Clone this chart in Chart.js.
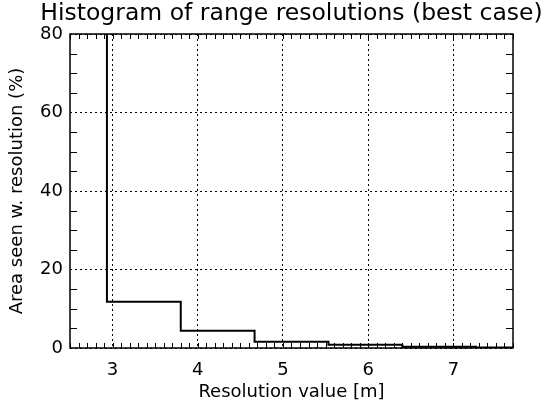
<!DOCTYPE html>
<html>
<head>
<meta charset="utf-8">
<script src="https://cdn.jsdelivr.net/npm/chart.js@4.4.0/dist/chart.umd.min.js"></script>
<style>
  html, body { margin: 0; padding: 0; background: #fff; }
  #wrap { width: 541px; height: 405px; }
</style>
</head>
<body>
<div id="wrap"><canvas id="histChart" width="541" height="405"></canvas></div>
<script>
// Histogram bins: centre of each resolution bin (m) and share of area (%)
const binCenters = [2.5, 3.367, 4.233, 5.1, 5.967, 6.833, 7.7];
const areaPct = [81, 11.8, 4.4, 1.6, 0.8, 0.3, 0.1];
const xTickValues = [3, 4, 5, 6, 7];
const yTickValues = [0, 20, 40, 60, 80];

const FONT = "'DejaVu Sans', sans-serif";

// Keep the title centred over the plot box rather than the whole canvas
const centreTitle = {
  id: 'centreTitle',
  afterLayout(chart) {
    const tb = chart.titleBlock;
    if (!tb) return;
    const a = chart.chartArea;
    const shift = (a.left + a.right) / 2 - (tb.left + tb.right) / 2;
    tb.left += shift;
    tb.right += shift;
  }
};

// Box frame plus inward minor ticks on all four sides
const frameTicks = {
  id: 'frameTicks',
  afterDatasetsDraw(chart) {
    const { ctx, chartArea: a, scales: { x, y } } = chart;
    ctx.save();
    ctx.strokeStyle = '#000';
    ctx.lineWidth = 1;
    ctx.beginPath();
    for (let t = 25; t <= 77; t++) {
      const px = Math.round(x.getPixelForValue(t / 10)) + 0.5;
      ctx.moveTo(px, a.bottom); ctx.lineTo(px, a.bottom - 5);
      ctx.moveTo(px, a.top); ctx.lineTo(px, a.top + 5);
    }
    for (let t = 5; t < 80; t += 5) {
      if (t % 20 === 0) continue;
      const py = Math.round(y.getPixelForValue(t)) + 0.5;
      ctx.moveTo(a.left, py); ctx.lineTo(a.left + 7, py);
      ctx.moveTo(a.right, py); ctx.lineTo(a.right - 7, py);
    }
    ctx.stroke();
    ctx.lineWidth = 1.5;
    ctx.strokeRect(a.left, a.top, a.right - a.left, a.bottom - a.top);
    ctx.restore();
  }
};

new Chart(document.getElementById('histChart'), {
  type: 'line',
  data: {
    datasets: [{
      data: binCenters.map((c, i) => ({ x: c, y: areaPct[i] })),
      stepped: 'middle',
      borderColor: '#000',
      borderWidth: 2,
      pointRadius: 0,
      fill: false
    }]
  },
  options: {
    responsive: false,
    animation: false,
    devicePixelRatio: 1,
    layout: { padding: { left: 0, right: 28, top: 0, bottom: 0 } },
    plugins: {
      legend: { display: false },
      tooltip: { enabled: false },
      title: {
        display: true,
        text: 'Histogram of range resolutions (best case)',
        color: '#000',
        align: 'center',
        font: { family: FONT, size: 23.5, weight: 'normal', lineHeight: 1.2 },
        padding: { top: 0, bottom: 5.8 }
      }
    },
    scales: {
      x: {
        type: 'linear',
        min: 2.5,
        max: 7.7,
        afterBuildTicks: s => { s.ticks = xTickValues.map(v => ({ value: v })); },
        afterFit: s => { s.height = 57; },
        ticks: { color: '#000', font: { family: FONT, size: 18 }, padding: 12, maxRotation: 0 },
        grid: { color: '#000', lineWidth: 1, drawTicks: false },
        border: { display: false, dash: [2, 3] },
        title: {
          display: true,
          text: 'Resolution value [m]',
          color: '#000',
          font: { family: FONT, size: 18 },
          padding: { top: 0, bottom: 2 }
        }
      },
      y: {
        min: 0,
        max: 80,
        afterBuildTicks: s => { s.ticks = yTickValues.map(v => ({ value: v })); },
        afterFit: s => { s.width = 70; },
        ticks: { color: '#000', font: { family: FONT, size: 18 }, padding: 7 },
        grid: { color: '#000', lineWidth: 1, drawTicks: false },
        border: { display: false, dash: [2, 3] },
        title: {
          display: true,
          text: 'Area seen w. resolution (%)',
          color: '#000',
          font: { family: FONT, size: 18 },
          padding: { top: 7, bottom: 0 }
        }
      }
    }
  },
  plugins: [centreTitle, frameTicks]
});
</script>
</body>
</html>
